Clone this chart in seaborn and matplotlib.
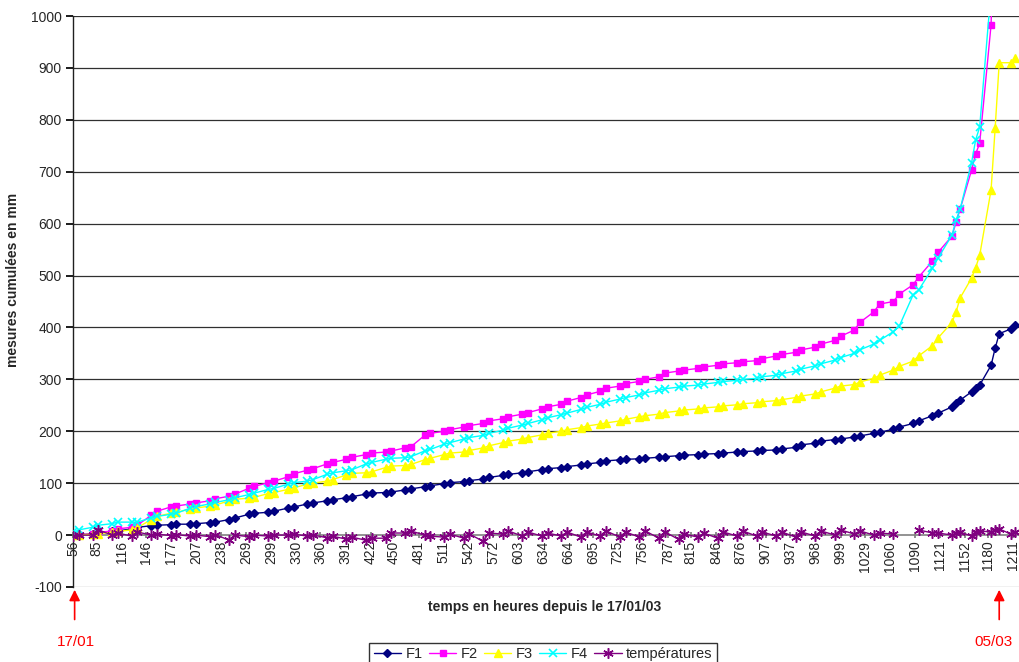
import numpy as np
import pandas as pd
import matplotlib
matplotlib.use("Agg")
import matplotlib.pyplot as plt
import seaborn as sns
from matplotlib.lines import Line2D

# ---- data (hours since 17/01/03 00h) ----
hours = [56, 63, 80, 87, 104, 111, 128, 135, 152, 159,
         176, 183, 200, 207, 224, 231, 248, 255, 272, 279,
         296, 303, 320, 327, 344, 351, 368, 375, 392, 399,
         416, 423, 440, 447, 464, 471, 488, 495, 512, 519,
         536, 543, 560, 567, 584, 591, 608, 615, 632, 639,
         656, 663, 680, 687, 704, 711, 728, 735, 752, 759,
         776, 783, 800, 807, 824, 831, 848, 855, 872, 879,
         896, 903, 920, 927, 944, 951, 968, 975, 992, 999,
         1016, 1023, 1040, 1047, 1064, 1071, 1088, 1095, 1112, 1119,
         1136, 1141, 1146, 1160, 1165, 1170, 1184, 1189, 1194, 1208, 1214]

f1 = [0, 0, 3, 5, 7, 8, 12, 15, 18, 19,
      20, 21, 21, 22, 24, 25, 30, 33, 40, 42,
      44, 46, 52, 54, 60, 62, 66, 68, 72, 74,
      79, 81, 82, 83, 87, 89, 93, 95, 99, 101,
      103, 105, 108, 111, 115, 117, 120, 122, 126, 128,
      130, 132, 135, 137, 140, 143, 145, 146, 147, 148,
      150, 151, 153, 154, 155, 156, 157, 158, 160, 161,
      162, 163, 164, 166, 169, 174, 177, 181, 184, 185,
      189, 191, 196, 198, 204, 208, 215, 220, 230, 235,
      247, 254, 260, 276, 283, 289, 327, 360, 388, 397, 405]

f2 = [0, 0, 3, 5, 8, 12, 15, 19, 38, 46,
      54, 56, 60, 62, 66, 70, 75, 79, 90, 94,
      101, 104, 112, 118, 125, 128, 137, 140, 146, 150,
      155, 158, 160, 162, 168, 170, 192, 196, 200, 203,
      208, 211, 215, 220, 224, 228, 233, 236, 243, 247,
      252, 258, 265, 270, 277, 283, 287, 292, 296, 300,
      305, 312, 316, 318, 321, 324, 327, 330, 332, 334,
      336, 340, 345, 348, 352, 357, 362, 368, 375, 383,
      395, 410, 430, 445, 450, 464, 482, 497, 528, 545,
      576, 603, 628, 703, 734, 755, 983, 1300, 1500, 1600, 1700]

f3 = [0, 0, 2, 3, 5, 7, 10, 14, 30, 36,
      42, 44, 50, 52, 56, 58, 66, 69, 71, 73,
      80, 82, 88, 91, 98, 100, 104, 107, 116, 119,
      120, 122, 130, 133, 134, 136, 145, 148, 155, 158,
      160, 163, 168, 172, 178, 181, 185, 188, 193, 196,
      200, 203, 207, 210, 214, 216, 220, 223, 228, 230,
      233, 236, 239, 241, 243, 245, 247, 249, 251, 253,
      255, 257, 259, 261, 265, 268, 272, 276, 283, 287,
      290, 295, 302, 308, 318, 325, 335, 345, 365, 380,
      410, 430, 457, 495, 515, 539, 665, 784, 910, 910, 919]

f4 = [5, 10, 15, 19, 22, 25, 25, 25, 33, 36,
      40, 42, 52, 55, 60, 63, 68, 72, 78, 81,
      88, 90, 98, 101, 104, 107, 117, 120, 124, 126,
      137, 140, 146, 148, 149, 151, 162, 165, 175, 178,
      185, 188, 192, 196, 202, 206, 212, 215, 222, 226,
      232, 235, 242, 246, 252, 256, 262, 265, 270, 274,
      279, 282, 285, 287, 289, 291, 294, 296, 298, 300,
      302, 305, 308, 311, 316, 320, 326, 330, 337, 342,
      350, 357, 368, 375, 392, 402, 462, 472, 514, 534,
      578, 607, 628, 717, 761, 786, 1050, 1300, 1500, 1600, 1700]

temperatures = [-2, 0, 0, 10, 0, 4, -2, 6, 0, 2,
                -1, 1, -2, 0, -3, 1, -10, 0, -3, 0,
                -2, 0, 0, 2, -2, 0, -5, -2, -8, -4,
                -10, -6, -6, 4, 4, 8, 0, -2, -4, 2,
                -6, 2, -12, 4, 2, 8, -2, 6, -2, 4,
                -2, 6, -4, 6, -2, 8, -4, 6, -4, 8,
                -6, 6, -8, 2, -4, 4, -6, 6, -2, 8,
                -2, 6, -2, 6, -4, 6, -2, 8, 0, 10,
                2, 8, 0, 4, 2, np.nan, np.nan, 10, 4, 4,
                0, 4, 6, -2, 6, 8, 6, 10, 12, 2, 6]

tick_hours = [56, 85, 116, 146, 177, 207, 238, 269, 299, 330, 360, 391, 422,
              450, 481, 511, 542, 572, 603, 634, 664, 695, 725, 756, 787, 815,
              846, 876, 907, 937, 968, 999, 1029, 1060, 1090, 1121, 1152, 1180, 1211]

series_names = ["F1", "F2", "F3", "F4", "températures"]
series_values = [f1, f2, f3, f4, temperatures]

# ---- style ----
sns.set_theme(style="white")
plt.rcParams['font.family'] = ['Liberation Sans', 'DejaVu Sans']
plt.rcParams['axes.unicode_minus'] = False

W, H = 1019, 662
fig = plt.figure(figsize=(W / 100, H / 100), dpi=100)
ax = fig.add_axes([73 / W, 1 - 587 / H, 1 - 73 / W, (587 - 16) / H])

styles = {
    "F1": dict(color="#000080", marker="D", markersize=4.5, mew=1),
    "F2": dict(color="#FF00FF", marker="s", markersize=4.5, mew=1),
    "F3": dict(color="#FFFF00", marker="^", markersize=6, mew=1),
    "F4": dict(color="#00FFFF", marker="x", markersize=5.5, mew=1.2),
    "températures": dict(color="#800080", marker=(6, 2, 0), markersize=7.5, mew=1.1),
}

for name, vals in zip(series_names, series_values):
    df = pd.DataFrame({"h": hours, "v": vals})
    df["seg"] = df["v"].isna().cumsum()
    df = df.dropna()
    st = styles[name]
    sns.lineplot(data=df, x="h", y="v", units="seg", estimator=None, ax=ax,
                 color=st["color"], marker=st["marker"], markersize=st["markersize"],
                 markeredgecolor=st["color"], markerfacecolor=st["color"],
                 markeredgewidth=st["mew"], linewidth=1.0, legend=False, zorder=3)

# spines first (set_position resets tick objects)
ax.spines["top"].set_visible(False)
ax.spines["right"].set_visible(False)
ax.spines["bottom"].set_position(("data", 0))
ax.spines["bottom"].set_color("#808080")
ax.spines["bottom"].set_linewidth(1.2)
ax.spines["left"].set_color("#202020")
ax.spines["left"].set_linewidth(1.0)

ax.set_xlim(56, 56 + (W - 73) / 0.8139)
ax.set_ylim(-100, 1000)
ax.set_yticks(range(-100, 1001, 100))
ax.set_xticks(tick_hours)
ax.set_xticklabels([str(t) for t in tick_hours])
ax.tick_params(axis="y", labelsize=10, left=True, length=5, direction="out", color="black", pad=3)
ax.tick_params(axis="x", bottom=True, length=4, direction="inout", color="#808080", pad=2,
               labelrotation=90, labelsize=10)
ax.set_xlabel("")
ax.set_ylabel("")

for y in range(-100, 1001, 100):
    if y == 0:
        continue
    ax.axhline(y, color="#303030" if y != -100 else "#909090", lw=0.9, zorder=1)

fig.text(13 / W, 1 - 280 / H, "mesures cumulées en mm", rotation=90, ha="center", va="center",
         fontsize=10, fontweight="bold")
fig.text(545 / W, 1 - 607 / H, "temps en heures depuis le 17/01/03", ha="center", va="center",
         fontsize=10, fontweight="bold")

# red arrows with dates
for xh, txt, tx in [(58, "17/01", 60), (1194, "05/03", 1187)]:
    ax.annotate("", xy=(xh, -100), xytext=(xh, -168),
                arrowprops=dict(arrowstyle="-|>", color="red", lw=1.2, mutation_scale=16),
                annotation_clip=False)
    ax.text(tx, -205, txt, color="red", fontsize=11, ha="center", va="center", clip_on=False)

handles = []
for name in series_names:
    st = styles[name]
    handles.append(Line2D([0], [0], color=st["color"], marker=st["marker"],
                          markersize=st["markersize"], markeredgecolor=st["color"],
                          markerfacecolor=st["color"], markeredgewidth=st["mew"], lw=1.0))
leg = fig.legend(handles, series_names, loc="lower center", bbox_to_anchor=(543 / W, -0.012),
                 ncol=5, frameon=True, fancybox=False, edgecolor="black", fontsize=10.5,
                 handlelength=1.9, columnspacing=0.4, handletextpad=0.3, borderpad=0.3,
                 borderaxespad=0.3)
leg.get_frame().set_linewidth(1.0)

fig.savefig("out.png", dpi=100)
